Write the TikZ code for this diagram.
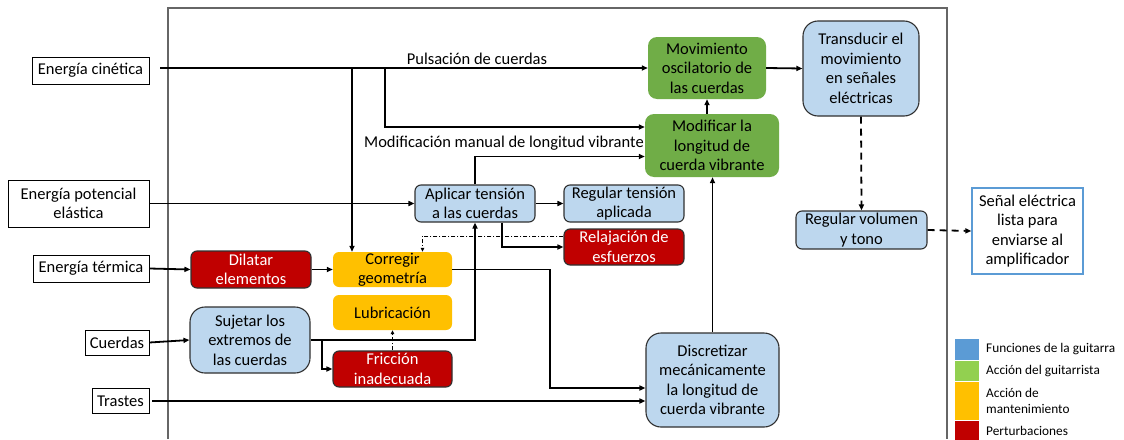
\documentclass[tikz,border=0pt]{standalone}
\usepackage{fontspec}
\setmainfont{Carlito}
\usetikzlibrary{arrows.meta}
\definecolor{gblue}{HTML}{BDD7EE}
\definecolor{ggreen}{HTML}{70AD47}
\definecolor{gred}{HTML}{C00000}
\definecolor{gyel}{HTML}{FFC000}
\definecolor{lblue}{HTML}{5B9BD5}
\definecolor{lgreen}{HTML}{92D050}
\definecolor{bord}{HTML}{303030}
\begin{document}
\begin{tikzpicture}[x=1pt,y=-1pt,
  txt/.style={font=\fontsize{16.5}{19.5}\selectfont, align=center, inner sep=0pt},
  inbox/.style={txt, draw=black, line width=0.9pt, fill=white},
  bluebox/.style={txt, draw=bord, line width=1.1pt, fill=gblue, rounded corners=6pt},
  bigblue/.style={bluebox, rounded corners=15pt},
  greenbox/.style={txt, fill=ggreen, rounded corners=9pt},
  redbox/.style={txt, draw=bord, line width=1.1pt, fill=gred, text=white, rounded corners=6pt},
  yelbox/.style={txt, fill=gyel, rounded corners=6pt},
  conn/.style={line width=1.8pt, -{Triangle[length=6pt,width=5pt]}},
  plainline/.style={line width=1.8pt},
  dashconn/.style={line width=1.8pt, dash pattern=on 7pt off 5pt, -{Triangle[length=6pt,width=5pt]}},
  dotconn/.style={line width=0.8pt, dash pattern=on 4pt off 2pt on 1pt off 2pt, -{Triangle[length=4pt,width=3.5pt]}},
  legtxt/.style={font=\fontsize{13.3}{16}\selectfont, align=left, anchor=west, inner sep=0pt},
]
\useasboundingbox (0,0) rectangle (1124,439);
\fill[white] (0,0) rectangle (1124,439);
% frame
\draw[line width=1.2pt, draw=gray!80!black] (168,439) -- (168,8) -- (947,8) -- (947,439);

% inputs
\node[inbox, minimum width=117, minimum height=27] (ec) at (90.5,70.5) {Energía cinética};
\node[inbox, minimum width=141, minimum height=47] (epe) at (78.5,203.5) {Energía potencial\\elástica};
\node[inbox, minimum width=116, minimum height=27] (et) at (91,268.5) {Energía térmica};
\node[inbox, minimum width=64, minimum height=25] (cu) at (117,342.5) {Cuerdas};
\node[inbox, minimum width=57, minimum height=25] (tr) at (120.5,401) {Trastes};

% green
\node[greenbox, minimum width=118, minimum height=62] (mov) at (707,68) {Movimiento\\oscilatorio de\\las cuerdas};
\node[greenbox, minimum width=134, minimum height=63] (mod) at (712,145.5) {Modificar la\\longitud de\\cuerda vibrante};

% blue
\node[bigblue, minimum width=116, minimum height=95] (tra) at (861,68.5) {Transducir el\\movimiento\\en señales\\eléctricas};
\node[bluebox, minimum width=131, minimum height=38] (vol) at (861.5,230) {Regular volumen\\y tono};
\node[txt, draw=lblue, line width=1.3pt, fill=white, minimum width=111, minimum height=86] (sen) at (1027.5,231) {Señal eléctrica\\lista para\\enviarse al\\amplificador};
\node[bluebox, minimum width=120, minimum height=37] (apl) at (475,203.5) {Aplicar tensión\\a las cuerdas};
\node[bluebox, minimum width=120, minimum height=37] (reg) at (624,203.5) {Regular tensión\\aplicada};
\node[redbox, minimum width=120, minimum height=36] (rel) at (624,247) {Relajación de\\esfuerzos};
\node[redbox, minimum width=120, minimum height=37] (dil) at (251,269.5) {Dilatar\\elementos};
\node[yelbox, minimum width=119, minimum height=35] (cor) at (392.5,269.5) {Corregir\\geometría};
\node[yelbox, minimum width=119, minimum height=35] (lub) at (392.5,312.5) {Lubricación};
\node[bigblue, minimum width=120, minimum height=66] (suj) at (250,340) {Sujetar los\\extremos de\\las cuerdas};
\node[redbox, minimum width=119, minimum height=36] (fri) at (392.5,369) {Fricción\\inadecuada};
\node[bigblue, minimum width=133, minimum height=94] (dis) at (712.5,380) {Discretizar\\mecánicamente\\la longitud de\\cuerda vibrante};

% labels
\node[txt] (lpul) at (477,59) {Pulsación de cuerdas};
\node[txt, anchor=east] (lmod) at (644,143.5) {Modificación manual de longitud vibrante};

% connectors
\coordinate (ecs) at (160,68);
\coordinate (b1) at (352,68);
\coordinate (b2) at (385,68);
\coordinate (k1) at (550,0);
\coordinate (k2) at (322,0);
\draw[conn] (ecs) -- (mov.west);
\draw[conn] (b1) -- (b1 |- cor.north);
\draw[conn] (b2) |- ([yshift=18.5pt]mod.west);
\draw[conn] (epe.east) -- (apl.west);
\draw[conn] (apl.east) -- (reg.west);
\draw[conn] (apl.north) |- ([yshift=-11pt]mod.west);
\draw[conn] ([xshift=27pt]apl.south) |- (rel.west);
\draw[dotconn] ([yshift=11pt]rel.west) -| ([xshift=30pt]cor.north);
\draw[conn] (et.east) -- (dil.west);
\draw[conn] (dil.east) -- (cor.west);
\draw[conn] (cu.east) -- (suj.west);
\draw[conn] (suj.east) -| (apl.south);
\draw[conn] (suj.east -| k2) |- (fri.west);
\draw[dotconn] (fri.north) -- (lub.south);
\draw[conn] (cor.east) -- (cor.east -| k1) |- ([yshift=-8pt]dis.west);
\draw[conn] ([xshift=3pt]tr.east) -- (tr.east -| dis.west);
\draw[conn] (dis.north) -- (dis.north |- mod.south);
\draw[conn] (mov.south |- mod.north) -- (mov.south);
\draw[conn] (mov.east) -- (tra.west);
\draw[dashconn] (tra.south) -- (vol.north);
\draw[dashconn] (vol.east) -- (sen.west);

% legend
\fill[lblue] (955,339) rectangle (979,360);
\fill[lgreen] (955,361) rectangle (979,381);
\fill[gyel] (955,382) rectangle (979,420);
\fill[gred] (955,421) rectangle (979,441);
\node[legtxt] (l1) at (986,349.5) {Funciones de la guitarra};
\node[legtxt] (l2) at (986,371.5) {Acción del guitarrista};
\node[legtxt] (l3) at (986,400.5) {Acción de\\mantenimiento};
\node[legtxt] (l4) at (986,430.5) {Perturbaciones};
\end{tikzpicture}
\end{document}
